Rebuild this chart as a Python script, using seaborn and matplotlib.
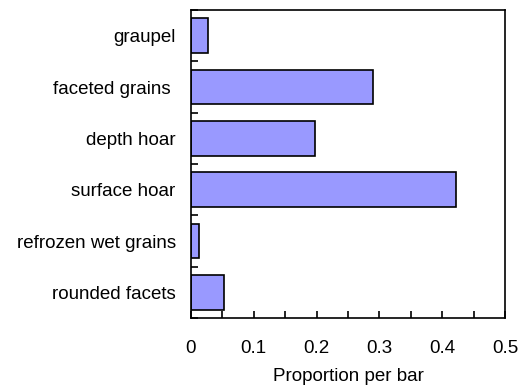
import matplotlib
matplotlib.use("Agg")
import matplotlib.pyplot as plt
import numpy as np
import pandas as pd
import seaborn as sns

categories = ["graupel", "faceted grains ", "depth hoar", "surface hoar",
              "refrozen wet grains", "rounded facets"]
proportions = [0.027, 0.290, 0.197, 0.422, 0.013, 0.053]
x_ticks = [0, 0.1, 0.2, 0.3, 0.4, 0.5]
x_tick_labels = ["0", "0.1", "0.2", "0.3", "0.4", "0.5"]

sns.set_theme(style="white")
plt.rcParams["font.family"] = ["Liberation Sans", "DejaVu Sans"]
plt.rcParams["text.color"] = "black"
plt.rcParams["axes.labelcolor"] = "black"

df = pd.DataFrame({"grain": categories, "proportion": proportions})

fig = plt.figure(figsize=(5.23, 3.88), dpi=100)
ax = fig.add_axes([191 / 523, 1 - 318 / 388, (505 - 191) / 523, (318 - 10) / 388])

sns.barplot(data=df, x="proportion", y="grain", order=categories, orient="h",
            color="#9999ff", saturation=1, width=0.68, edgecolor="black",
            linewidth=1.2, ax=ax)

ax.set_xlim(0, 0.5)
ax.set_ylim(len(categories) - 0.5, -0.5)
ax.set_xticks(x_ticks)
ax.set_xticklabels(x_tick_labels)
ax.set_xticks(np.arange(0.05, 0.5, 0.1), minor=True)
ax.set_yticks(np.arange(-0.5, len(categories), 1.0), minor=True)

ax.tick_params(axis="x", which="both", direction="in", length=5, width=1.2,
               bottom=True, top=False, pad=16, labelsize=13.5, colors="black")
ax.tick_params(axis="y", which="major", length=0, pad=11, labelsize=13.5,
               labelcolor="black")
ax.tick_params(axis="y", which="minor", direction="in", length=5, width=1.2,
               left=True, right=False, color="black")

for spine in ax.spines.values():
    spine.set_visible(True)
    spine.set_color("black")
    spine.set_linewidth(1.2)

ax.set_xlabel("Proportion per bar", fontsize=13.5, labelpad=8, color="black")
ax.set_ylabel("")

fig.savefig("out.png", dpi=100)
